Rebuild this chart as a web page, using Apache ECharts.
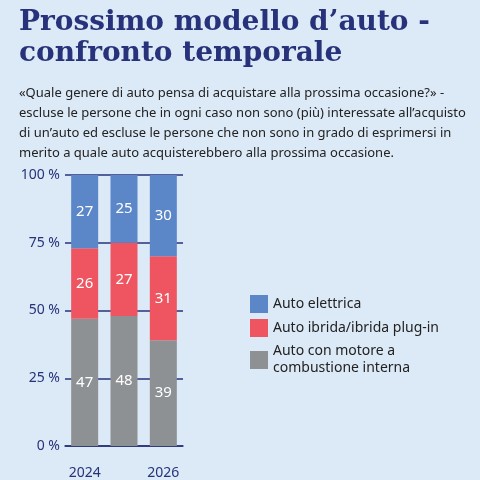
<!DOCTYPE html>
<html>
<head>
<meta charset="utf-8">
<script src="https://cdn.jsdelivr.net/npm/echarts@6/dist/echarts.min.js"></script>
<style>
  html, body { margin: 0; padding: 0; background: #dce9f6; }
  #root { width: 480px; height: 480px; }
</style>
</head>
<body>
<div id="root"></div>
<script>
const years = ['2024', '2025', '2026'];
const combustione = [47, 48, 39];
const ibrida = [26, 27, 31];
const elettrica = [27, 25, 30];
const yTicks = [0, 25, 50, 75, 100];

const chart = echarts.init(document.getElementById('root'));

const label = { show: true, color: '#fff', fontSize: 15, fontFamily: 'Noto Sans' };

chart.setOption({
  backgroundColor: '#dce9f6',
  title: [{
    text: 'Prossimo modello d’auto -\nconfronto temporale',
    left: 14, top: 2,
    textStyle: { fontFamily: 'DejaVu Serif', fontWeight: 'bold', fontSize: 28, lineHeight: 31, color: '#27327a' }
  }, {
    text: '«Quale genere di auto pensa di acquistare alla prossima occasione?» -\nescluse le persone che in ogni caso non sono (più) interessate all’acquisto\ndi un’auto ed escluse le persone che non sono in grado di esprimersi in\nmerito a quale auto acquisterebbero alla prossima occasione.',
    left: 14, top: 78,
    textStyle: { fontFamily: 'Noto Sans', fontWeight: 'normal', fontSize: 13, lineHeight: 20, color: '#222' }
  }],
  legend: {
    orient: 'vertical', left: 245, top: 290,
    itemWidth: 18, itemHeight: 18, itemGap: 6, icon: 'rect',
    textStyle: { fontFamily: 'Noto Sans', fontSize: 14, color: '#222', lineHeight: 17 },
    data: ['Auto elettrica', 'Auto ibrida/ibrida plug-in', 'Auto con motore a\ncombustione interna']
  },
  grid: { left: 65, right: 297, top: 175, bottom: 28 },
  xAxis: {
    type: 'category', data: years,
    axisLine: { lineStyle: { color: '#27327a', width: 1.5 } },
    axisTick: { alignWithLabel: true, length: 8, lineStyle: { color: '#27327a' } },
    axisLabel: { color: '#27327a', fontSize: 14, fontFamily: 'Noto Sans', margin: 20 }
  },
  yAxis: {
    type: 'value', min: 0, max: 100, interval: 25,
    axisLine: { show: false },
    axisTick: { show: false },
    splitLine: { lineStyle: { color: '#27327a', width: 1.5 } },
    axisLabel: { color: '#27327a', fontSize: 14, fontFamily: 'Noto Sans', margin: 5,
      formatter: v => yTicks.includes(v) ? v + ' %' : '' }
  },
  series: [{
    name: 'Auto con motore a\ncombustione interna', type: 'bar', stack: 't', data: combustione,
    barWidth: 27, itemStyle: { color: '#8e9194' }, label
  }, {
    name: 'Auto ibrida/ibrida plug-in', type: 'bar', stack: 't', data: ibrida,
    itemStyle: { color: '#ee5560' }, label
  }, {
    name: 'Auto elettrica', type: 'bar', stack: 't', data: elettrica,
    itemStyle: { color: '#5b86c8' }, label
  }]
});
</script>
</body>
</html>
